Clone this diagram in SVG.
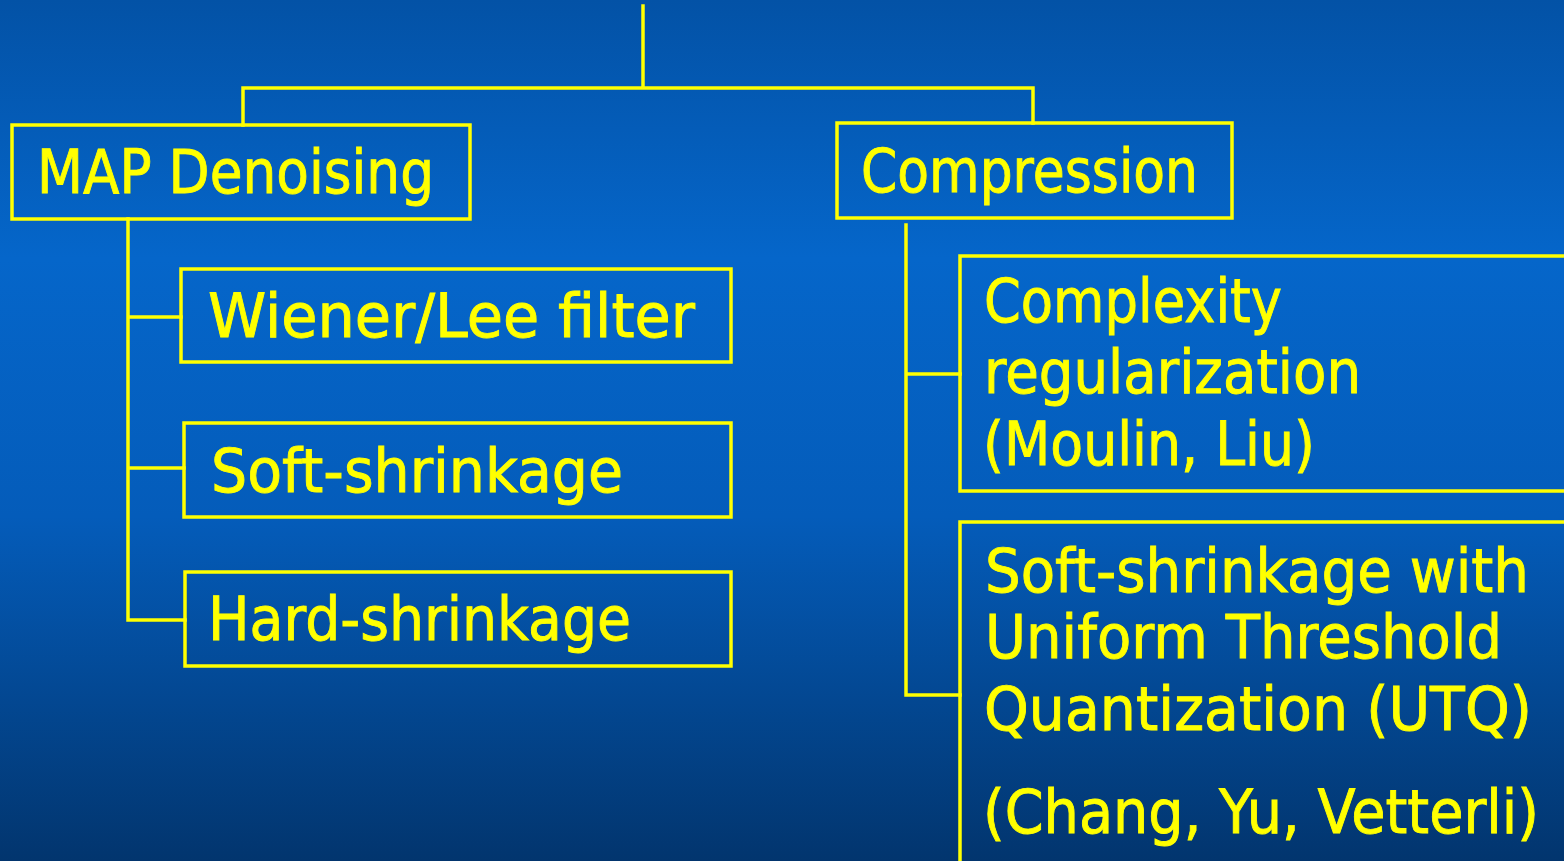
<svg xmlns="http://www.w3.org/2000/svg" width="1564" height="861" viewBox="0 0 1564 861">
  <defs>
    <linearGradient id="bg" x1="0" y1="0" x2="0" y2="1">
      <stop offset="0" stop-color="#0352a6"/>
      <stop offset="0.3" stop-color="#0566ca"/>
      <stop offset="0.6" stop-color="#045cba"/>
      <stop offset="1" stop-color="#02356e"/>
    </linearGradient>
    <style>
      .box { fill: none; stroke: #ffff00; stroke-width: 3.5; }
      .wire { fill: none; stroke: #ffff00; stroke-width: 3.5; stroke-linecap: square; }
      .lbl { fill: #ffff00; stroke: #ffff00; stroke-width: 0.9; font-family: "Comic Sans MS", "DejaVu Sans", "Noto Sans", sans-serif; font-size: 60px; }
    </style>
  </defs>

  <rect x="0" y="0" width="1564" height="861" fill="url(#bg)"/>

  <!-- tree wiring -->
  <g id="connectors">
    <path class="wire" d="M643,6 V88 M243,88 H1033 M243,88 V125 M1033,88 V123"/>
    <path class="wire" d="M128,219 V620 M128,317 H181 M128,468 H184 M128,620 H185"/>
    <path class="wire" d="M906,225 V695 M906,374 H960 M906,695 H960"/>
  </g>

  <g id="map-denoising">
    <rect class="box" x="12" y="125" width="458" height="94"/>
    <text class="lbl" x="37" y="193" textLength="397" lengthAdjust="spacingAndGlyphs">MAP Denoising</text>
  </g>

  <g id="compression">
    <rect class="box" x="837" y="123" width="395" height="95"/>
    <text class="lbl" x="861" y="192" textLength="337" lengthAdjust="spacingAndGlyphs">Compression</text>
  </g>

  <g id="wiener-lee">
    <rect class="box" x="181" y="269" width="550" height="93"/>
    <text class="lbl" x="208" y="337" textLength="487" lengthAdjust="spacingAndGlyphs">Wiener/Lee filter</text>
  </g>

  <g id="soft-shrinkage">
    <rect class="box" x="184" y="423" width="547" height="94"/>
    <text class="lbl" x="211" y="492" textLength="412" lengthAdjust="spacingAndGlyphs">Soft-shrinkage</text>
  </g>

  <g id="hard-shrinkage">
    <rect class="box" x="185" y="572" width="546" height="94"/>
    <text class="lbl" x="208" y="640" textLength="423" lengthAdjust="spacingAndGlyphs">Hard-shrinkage</text>
  </g>

  <!-- the two right-hand boxes run on past the right and bottom edges -->
  <g id="complexity-regularization">
    <path class="box" d="M1564,256 H960 V491 H1564"/>
    <text class="lbl" x="984" y="322" textLength="298" lengthAdjust="spacingAndGlyphs">Complexity</text>
    <text class="lbl" x="984" y="393" textLength="377" lengthAdjust="spacingAndGlyphs">regularization</text>
    <text class="lbl" x="983" y="465" textLength="332" lengthAdjust="spacingAndGlyphs">(Moulin, Liu)</text>
  </g>

  <g id="soft-shrinkage-utq">
    <path class="box" d="M1564,522 H960 V861"/>
    <text class="lbl" x="985" y="592" textLength="544" lengthAdjust="spacingAndGlyphs">Soft-shrinkage with</text>
    <text class="lbl" x="985" y="658" textLength="517" lengthAdjust="spacingAndGlyphs">Uniform Threshold</text>
    <text class="lbl" x="984" y="730" textLength="548" lengthAdjust="spacingAndGlyphs">Quantization (UTQ)</text>
    <text class="lbl" x="983" y="833" textLength="556" lengthAdjust="spacingAndGlyphs">(Chang, Yu, Vetterli)</text>
  </g>
</svg>
